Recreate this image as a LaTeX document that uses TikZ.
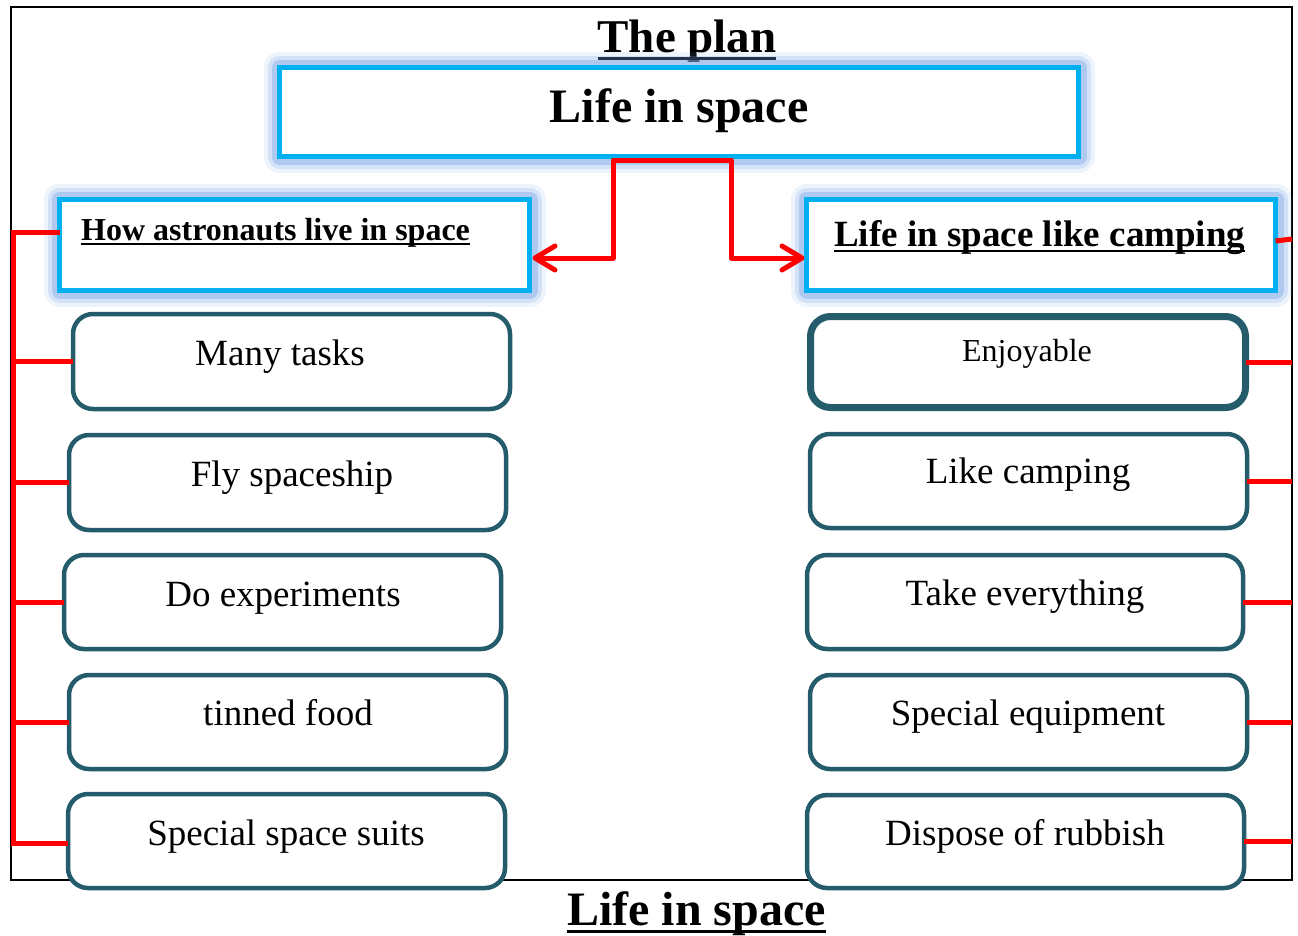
\documentclass[tikz,border=0pt]{standalone}
\usepackage{fontspec}
\setmainfont{Liberation Serif}
\usetikzlibrary{arrows.meta,calc}
\definecolor{cyanb}{HTML}{00B0F0}
\definecolor{glowc}{RGB}{120,165,232}
\definecolor{tealb}{HTML}{245C6C}
\newcommand\myul[1]{\setbox0\hbox{#1}\rlap{\rule[-0.17em]{\wd0}{0.065em}}\box0}
\begin{document}
\begin{tikzpicture}[x=1pt,y=-1pt,
  glowbox/.style={draw=cyanb, line width=5pt, fill=white, inner sep=0pt, outer sep=0pt,
    preaction={draw=glowc, line width=32pt, draw opacity=0.12, line join=round},
    preaction={draw=glowc, line width=24pt, draw opacity=0.22, line join=round},
    preaction={draw=glowc, line width=16pt, draw opacity=0.4, line join=round}},
  itembox/.style={draw=tealb, line width=4.5pt, rounded corners=20pt, fill=white,
    inner sep=0pt, outer sep=0pt, minimum width=437pt, minimum height=94pt},
  lbl/.style={anchor=base, inner sep=0pt, font=\fontsize{37}{40}\selectfont},
  link/.style={draw=red, line width=5pt},
  barb/.tip={Straight Barb[length=20pt,width=24pt,line width=5pt,round]},
  arr/.style={draw=red, line width=5pt, line join=round, barb-barb}
]
\fill[white] (0,0) rectangle (1298,935);
\useasboundingbox (0,0) rectangle (1298,935);

% outer frame
\node[draw=black, line width=2pt, minimum width=1281pt, minimum height=873pt,
  inner sep=0pt, outer sep=0pt] (frame) at (651.5,443.5) {};

% titles
\node[anchor=base, inner sep=0pt, font=\bfseries\fontsize{47}{50}\selectfont] (title) at (687,52) {\myul{The plan}};
\node[anchor=base, inner sep=0pt, font=\bfseries\fontsize{48}{50}\selectfont] (bottom) at (696.5,925) {\myul{Life in space}};

% header boxes
\node[glowbox, minimum width=799pt, minimum height=89pt] (top) at (679,112) {};
\node[anchor=base, inner sep=0pt, font=\bfseries\fontsize{48}{50}\selectfont] (toptxt) at (679,122) {Life in space};

\node[glowbox, minimum width=470pt, minimum height=91pt] (lh) at (294.5,245) {};
\node[anchor=base west, inner sep=0pt, font=\bfseries\fontsize{32}{34}\selectfont] (lhtxt) at (81,240) {\myul{How astronauts live in space}};

\node[glowbox, minimum width=469pt, minimum height=91pt] (rh) at (1041,245) {};
\node[anchor=base west, inner sep=0pt, font=\bfseries\fontsize{37}{40}\selectfont] (rhtxt) at (834,246) {\myul{Life in space like camping}};

% left items
\node[itembox, minimum height=95pt] (l1) at (291.5,361.5) {};
\node[itembox, minimum height=95pt] (l2) at (287.5,482.5) {};
\node[itembox] (l3) at (282.5,602) {};
\node[itembox] (l4) at (287.5,722) {};
\node[itembox] (l5) at (286.5,841) {};
\node[lbl] (lt1) at (280,365) {Many tasks};
\node[lbl] (lt2) at (292,486) {Fly spaceship};
\node[lbl] (lt3) at (283,606) {Do experiments};
\node[lbl] (lt4) at (288,725) {tinned food};
\node[lbl] (lt5) at (286,845) {Special space suits};

% right items
\node[itembox, line width=7pt, minimum width=435pt, minimum height=91pt] (r1) at (1028,362) {};
\node[itembox] (r2) at (1028.5,481) {};
\node[itembox, minimum width=436pt] (r3) at (1025,602) {};
\node[itembox] (r4) at (1028.5,722) {};
\node[itembox, minimum height=93pt] (r5) at (1025.5,841.5) {};
\node[lbl, font=\fontsize{32}{34}\selectfont] (rt1) at (1027,361) {Enjoyable};
\node[lbl] (rt2) at (1028,483) {Like camping};
\node[lbl] (rt3) at (1025,605) {Take everything};
\node[lbl] (rt4) at (1028,725) {Special equipment};
\node[lbl] (rt5) at (1025,845) {Dispose of rubbish};

% connector from the top box to both headers
\coordinate (jl) at (613,258);
\coordinate (jr) at (731,258);
\draw[arr] ([xshift=3pt]lh.east |- jl) -- (jl) -- (jl |- 0,160) -- (jr |- 0,160) -- (jr) -- ([xshift=-2pt]rh.west |- jr);

% left bus
\coordinate (busT) at (13.5,232);
\coordinate (busB) at (13.5,843);
\draw[link] (lh.west |- busT) -- (busT) -- (busB) -- (l5.west |- busB);
\foreach \n in {l1,l2,l3,l4} \draw[link] (\n.west -| busT) -- (\n.west);

% right ticks
\foreach \n in {r1,r2,r3,r4,r5} \draw[link] (\n.east) -- (\n.east -| frame.east);
\draw[link] ($(rh.east)+(0,-4)$) -- ($(rh.east -| frame.east)+(0,-6)$);
\end{tikzpicture}
\end{document}
